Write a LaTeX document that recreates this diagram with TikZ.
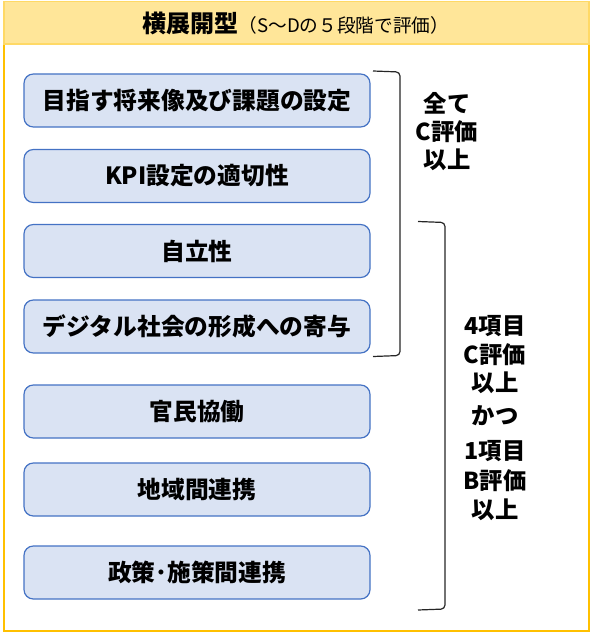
\documentclass[tikz,border=0pt]{standalone}
\usepackage{fontspec}
\setmainfont{Noto Sans CJK JP}
\definecolor{gold}{HTML}{FFC000}
\definecolor{hdrline}{HTML}{FFD966}
\definecolor{hdr}{HTML}{FFE699}
\definecolor{boxfill}{HTML}{DAE3F3}
\definecolor{boxline}{HTML}{4472C4}
\definecolor{brk}{HTML}{262626}
\tikzset{
  item/.style={rounded corners=7pt, draw=boxline, fill=boxfill, line width=0.9pt,
    minimum width=259.5pt, minimum height=39.75pt, inner sep=0pt,
    font=\bfseries\fontsize{17.8}{21}\selectfont},
  cond/.style={inner sep=0pt, font=\bfseries\fontsize{17.5}{20}\selectfont},
  bracketline/.style={draw=brk, line width=0.9pt, rounded corners=3pt}
}
\begin{document}
\begin{tikzpicture}[x=0.75pt,y=-0.75pt]
\useasboundingbox (0,0) rectangle (595,635);
% outer frame and header
\draw[gold, line width=1.1pt] (4,1.5) rectangle (589,631);
\draw[hdrline, fill=hdr, line width=1.1pt] (4,1.5) rectangle (589,44);
\node[inner sep=0pt] (title) at (296,23.5)
  {{\bfseries\fontsize{18}{21}\selectfont 横展開型}{\fontsize{14}{17}\selectfont （S～Dの５段階で評価）}};
% items
\node[item] (b1) at (197,100.5) {目指す将来像及び課題の設定};
\node[item] (b2) at (197,176) {KPI設定の適切性};
\node[item] (b3) at (197,251) {自立性};
\node[item] (b4) at (197,326.5) {デジタル社会の形成への寄与};
\node[item] (b5) at (197,411.5) {官民協働};
\node[item] (b6) at (197,489.5) {地域間連携};
\node[item] (b7) at (197,572.5) {政策･施策間連携};
% brackets
\coordinate (k1a) at (373,71);
\coordinate (k1b) at (373,356.5);
\coordinate (k2a) at (418,221.5);
\coordinate (k2b) at (418,610);
\draw[bracketline] (k1a) -- (400,72) -- (400,355.5) -- (k1b);
\draw[bracketline] (k2a) -- (445,222.5) -- (445,609) -- (k2b);
% conditions
\node[cond] (c1) at (447,103) {全て};
\node[cond] (c2) at (447,132) {C評価};
\node[cond] (c3) at (447,160) {以上};
\node[cond] (d1) at (495,326) {4項目};
\node[cond] (d2) at (495,355) {C評価};
\node[cond] (d3) at (495,383) {以上};
\node[cond] (d4) at (495,416) {かつ};
\node[cond] (d5) at (495,451) {1項目};
\node[cond] (d6) at (495,481) {B評価};
\node[cond] (d7) at (495,510) {以上};
\end{tikzpicture}
\end{document}
